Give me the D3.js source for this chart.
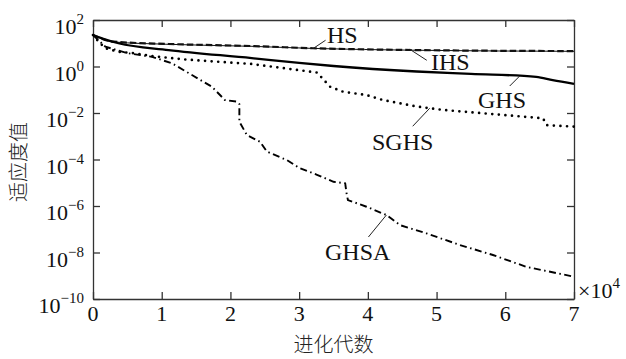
<!DOCTYPE html>
<html>
<head>
<meta charset="utf-8">
<script src="https://cdn.jsdelivr.net/npm/d3@7"></script>
<style>
  body { margin: 0; background: #fff; }
  svg { display: block; }
  .axis path, .axis line { stroke: #333; stroke-width: 1.3; }
  .lbl { font-family: "Liberation Serif", "DejaVu Serif", serif; fill: #111; }
  .cjk { font-family: "Noto Sans CJK SC", sans-serif; fill: #222; font-weight: 300; }
</style>
</head>
<body>
<div id="chart"></div>
<script>
// generations are in units of 10^4
const hsGen  = [0, 0.3, 1.1, 2.3, 3.2, 4.7, 7];
const hsVal  = [22.6, 11.7, 9.3, 7.6, 6.1, 5.1, 4.6];

const ihsGen = [0, 0.3, 1.1, 2.3, 3.2, 4.7, 7];
const ihsVal = [22.6, 11.4, 9.0, 7.4, 6.0, 5.0, 4.5];

const ghsGen = [0, 0.15, 0.37, 1.1, 2.31, 3.0, 3.5, 4.71, 5.5, 6.45, 6.69, 7];
const ghsVal = [22.6, 15.5, 10.0, 5.1, 2.3, 1.42, 1.05, 0.61, 0.48, 0.36, 0.26, 0.18];

const sghsGen = [0, 0.08, 0.18, 0.37, 0.61, 0.86, 1.34, 2.31, 3.26, 3.45, 3.64, 3.98, 4.22, 4.71, 5.1, 6.55, 6.6, 7];
const sghsVal = [22.6, 11.7, 6.1, 4.3, 3.7, 2.8, 2.0, 1.28, 0.55, 0.135, 0.082, 0.059, 0.036, 0.019, 0.0135, 0.0059, 0.003, 0.0026];

const ghsaGen = [0, 0.18, 0.51, 0.86, 1.15, 1.44, 1.73, 1.92, 2.09, 2.13, 2.13, 2.24, 2.43, 2.53, 2.82, 3.01, 3.26, 3.5, 3.67, 3.69, 3.71, 3.98, 4.27, 4.47, 4.85, 5.34, 5.82, 6.31, 7];
const ghsaVal = [22.6, 7.1, 3.7, 2.6, 1.37, 0.43, 0.135, 0.036, 0.031, 0.024, 0.0042, 1.13e-3, 5.8e-4, 2.2e-4, 9.5e-5, 4.2e-5, 2.2e-5, 1.1e-5, 9.5e-6, 3.5e-6, 1.8e-6, 9.3e-7, 4.1e-7, 1.5e-7, 6.7e-8, 2.1e-8, 7.8e-9, 2.4e-9, 9.1e-10];

const xTicks = [0, 1, 2, 3, 4, 5, 6, 7];
const yExps = [2, 0, -2, -4, -6, -8, -10];

const seriesNames = ["HS", "IHS", "GHS", "SGHS", "GHSA"];
// label anchor on the curve (generation, value)
const labelGen = [3.21, 4.61, 6.21, 4.9, 4.27];
const labelVal = [6.1, 5.5, 0.39, 0.016, 4.1e-7];

const W = 626, H = 359;
const margin = {left: 93, right: 574, top: 20, bottom: 299};

const svg = d3.select("#chart").append("svg")
  .attr("width", W).attr("height", H);

const x = d3.scaleLinear().domain([0, 7]).range([margin.left, margin.right]);
const y = d3.scaleLog().domain([1e-10, 1e2]).range([margin.bottom, margin.top]);

const tickVals = yExps.map(e => Math.pow(10, e));

// axes with inward ticks on all four sides
svg.append("g").attr("class", "axis")
  .attr("transform", `translate(0,${margin.bottom})`)
  .call(d3.axisBottom(x).tickValues(xTicks).tickSizeInner(-7).tickSizeOuter(0).tickFormat(""));
svg.append("g").attr("class", "axis")
  .attr("transform", `translate(0,${margin.top})`)
  .call(d3.axisTop(x).tickValues(xTicks).tickSizeInner(-7).tickSizeOuter(0).tickFormat(""));
svg.append("g").attr("class", "axis")
  .attr("transform", `translate(${margin.left},0)`)
  .call(d3.axisLeft(y).tickValues(tickVals).tickSizeInner(-7).tickSizeOuter(0).tickFormat(""));
svg.append("g").attr("class", "axis")
  .attr("transform", `translate(${margin.right},0)`)
  .call(d3.axisRight(y).tickValues(tickVals).tickSizeInner(-7).tickSizeOuter(0).tickFormat(""));

// tick labels
svg.selectAll(".xtl").data(xTicks).enter().append("text")
  .attr("class", "lbl")
  .attr("x", d => x(d)).attr("y", margin.bottom + 22)
  .attr("text-anchor", "middle")
  .style("font-size", "22px")
  .text(d => d);

const ylab = svg.selectAll(".ytl").data(yExps).enter().append("text")
  .attr("class", "lbl")
  .attr("x", 84).attr("y", d => y(Math.pow(10, d)) + 14)
  .attr("text-anchor", "end")
  .style("font-size", "22px");
ylab.append("tspan").text("10");
ylab.append("tspan").attr("dy", -10).style("font-size", "15px")
  .text(d => d < 0 ? "\u2212" + (-d) : d);

const mult = svg.append("text").attr("class", "lbl")
  .attr("x", 578).attr("y", margin.bottom - 1)
  .style("font-size", "22px");
mult.append("tspan").text("\u00d710");
mult.append("tspan").attr("dy", -10).style("font-size", "15px").text("4");

// axis titles
svg.append("text").attr("class", "cjk")
  .attr("x", (margin.left + margin.right) / 2).attr("y", 352)
  .attr("text-anchor", "middle")
  .style("font-size", "20px")
  .text("进化代数");
svg.append("text").attr("class", "cjk")
  .attr("transform", "translate(26,162) rotate(-90)")
  .attr("text-anchor", "middle")
  .style("font-size", "20px")
  .text("适应度值");

// curves
const smooth = d3.line().x(d => x(d[0])).y(d => y(d[1])).curve(d3.curveMonotoneX);
const line = d3.line().x(d => x(d[0])).y(d => y(d[1]));
const zip = (a, b) => a.map((v, i) => [v, b[i]]);

svg.append("path").attr("d", smooth(zip(ihsGen, ihsVal)))
  .attr("fill", "none").attr("stroke", "#111").attr("stroke-width", 1);
svg.append("path").attr("d", smooth(zip(hsGen, hsVal)))
  .attr("fill", "none").attr("stroke", "#111").attr("stroke-width", 2.2)
  .attr("stroke-dasharray", "6.5,3");
svg.append("path").attr("d", smooth(zip(ghsGen, ghsVal)))
  .attr("fill", "none").attr("stroke", "#000").attr("stroke-width", 2.3);
svg.append("path").attr("d", line(zip(sghsGen, sghsVal)))
  .attr("fill", "none").attr("stroke", "#000").attr("stroke-width", 2.7)
  .attr("stroke-linecap", "round").attr("stroke-dasharray", "0,6.6");
svg.append("path").attr("d", line(zip(ghsaGen, ghsaVal)))
  .attr("fill", "none").attr("stroke", "#000").attr("stroke-width", 1.9)
  .attr("stroke-dasharray", "7,3.5,1.5,3.5");

// curve labels with leader lines
const offs = [[12, -8], [17, 11], [-10, 10], [-17, 18], [-18, 22]];
const textPos = [[327, 42.7], [431, 70], [478, 108.3], [372, 150], [325, 260]];
seriesNames.forEach((name, i) => {
  const px = x(labelGen[i]), py = y(labelVal[i]);
  svg.append("line")
    .attr("x1", px).attr("y1", py)
    .attr("x2", px + offs[i][0]).attr("y2", py + offs[i][1])
    .attr("stroke", "#222").attr("stroke-width", 1);
  svg.append("text").attr("class", "lbl")
    .attr("x", textPos[i][0]).attr("y", textPos[i][1])
    .style("font-size", "24px")
    .text(name);
});
</script>
</body>
</html>
